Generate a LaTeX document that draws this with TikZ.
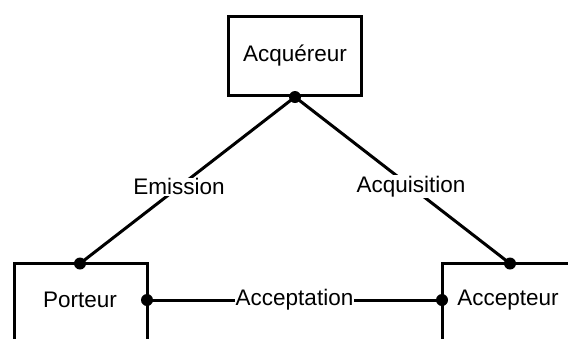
\documentclass[tikz,border=0pt]{standalone}
\usepackage{fontspec}
\setmainfont{Liberation Sans}
\begin{document}
\begin{tikzpicture}[x=1pt,y=-1pt,line width=3pt,
	txt/.style={font=\fontsize{22.5}{27}\selectfont},
	lbl/.style={txt,fill=white,inner sep=1pt},
	dot/.style={circle,fill,inner sep=0pt,minimum size=12pt}]
	\useasboundingbox (0,0) rectangle (568,338);
	\clip (0,0) rectangle (568,338);
	
	% boites
	\node[draw,txt,minimum width=133pt,minimum height=79pt] (acq) at (295,56) {Acquéreur};
	\draw (14.5,350) |- (147,263.5) -- (147,350);
	\draw (442,350) |- (580,263.5);
	\node[txt] (porteur) at (80,300) {Porteur};
	\node[txt] (accepteur) at (508,300) {Accepteur};
	
	% points de connexion
	\node[dot] (a) at (acq.south) {};
	\node[dot] (p1) at (80,263.5) {};
	\node[dot] (p2) at (147,300) {};
	\node[dot] (c1) at (510,263.5) {};
	\node[dot] (c2) at (442,300) {};
	
	% liens
	\draw (a.center) -- node[lbl,pos=.54] {Emission} (p1.center);
	\draw (a.center) -- node[lbl,pos=.54] {Acquisition} (c1.center);
	\draw (p2.center) -- node[lbl] {Acceptation} (c2.center);
\end{tikzpicture}
\end{document}
